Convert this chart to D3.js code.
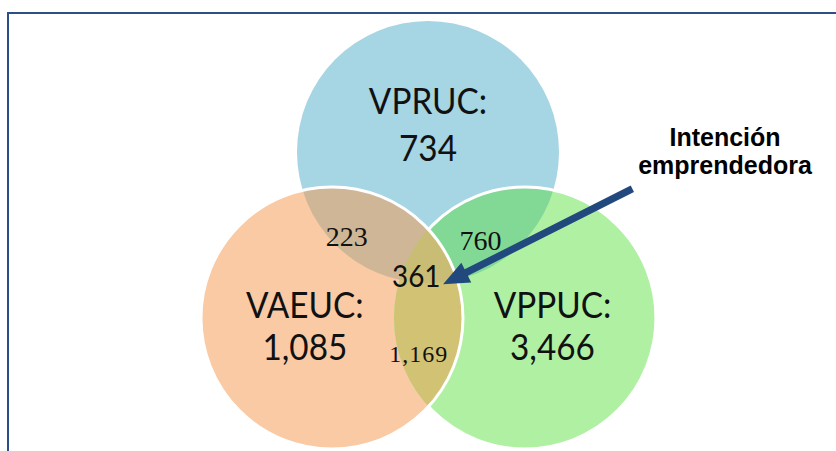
<!DOCTYPE html>
<html>
<head>
<meta charset="utf-8">
<script src="https://cdn.jsdelivr.net/npm/d3@7"></script>
<style>
  body { margin: 0; background: #fff; }
  svg { display: block; }
</style>
</head>
<body>
<script>
// sets and overlaps
var setNames = ["VPRUC", "VAEUC", "VPPUC"];
var setValues = [734, 1085, 3466];
var pairSets = [["VPRUC", "VAEUC"], ["VPRUC", "VPPUC"], ["VAEUC", "VPPUC"]];
var pairValues = [223, 760, 1169];
var tripleValue = 361;
var arrowLabel = ["Intención", "emprendedora"];

var width = 836, height = 451;

// layout in circle-radius units (center of VPRUC = 0,0)
var layout = {
  VPRUC: {cx: 0, cy: 0, fill: "#a6d5e3"},
  VAEUC: {cx: -0.733, cy: 1.267, fill: "#f9caa4"},
  VPPUC: {cx: 0.74, cy: 1.267, fill: "#b0f0a3"}
};
var pairFill = ["#cfb696", "#82d995", "#d1c274"];
var tripleFill = "#c9bd76";
var pairPos = [[-0.62, 0.72], [0.4, 0.75]];
var pairPos3 = [-0.07, 1.6];

var x = d3.scaleLinear().domain([0, 1]).range([428, 559]);
var y = d3.scaleLinear().domain([0, 1]).range([152, 283]);
var r = x(1) - x(0);
var fmt = d3.format(",");

var svg = d3.select("body").append("svg")
    .attr("width", width)
    .attr("height", height);

var defs = svg.append("defs");
setNames.forEach(function(s) {
  defs.append("clipPath").attr("id", "clip-" + s)
    .append("circle")
      .attr("cx", x(layout[s].cx))
      .attr("cy", y(layout[s].cy))
      .attr("r", r);
});
var mask = defs.append("mask").attr("id", "mask-noL");
mask.append("rect").attr("width", width).attr("height", height).attr("fill", "#fff");
mask.append("circle")
    .attr("cx", x(layout.VAEUC.cx)).attr("cy", y(layout.VAEUC.cy)).attr("r", r)
    .attr("fill", "#000");

function circ(sel, s) {
  return sel.append("circle")
      .attr("cx", x(layout[s].cx))
      .attr("cy", y(layout[s].cy))
      .attr("r", r);
}

// frame
svg.append("rect")
    .attr("x", 8).attr("y", 13)
    .attr("width", 900).attr("height", 600)
    .attr("fill", "none")
    .attr("stroke", "#2c4f86")
    .attr("stroke-width", 2);

// single sets
setNames.forEach(function(s) {
  circ(svg, s).attr("fill", layout[s].fill);
});

// pairwise overlaps
pairSets.forEach(function(p, i) {
  circ(svg.append("g").attr("clip-path", "url(#clip-" + p[0] + ")"), p[1])
      .attr("fill", pairFill[i]);
});

// triple overlap
circ(svg.append("g").attr("clip-path", "url(#clip-VPRUC)")
        .append("g").attr("clip-path", "url(#clip-VPPUC)"), "VAEUC")
    .attr("fill", tripleFill);

// white outlines
circ(svg, "VPPUC").attr("fill", "none").attr("stroke", "#fff")
    .attr("stroke-width", 3).attr("mask", "url(#mask-noL)");
circ(svg, "VAEUC").attr("fill", "none").attr("stroke", "#fff")
    .attr("stroke-width", 3);

// set labels (narrowed a bit to look like Calibri)
var setLabelPos = {VPRUC: [0, -0.29], VAEUC: [-0.94, 1.265], VPPUC: [0.95, 1.265]};
var setLabelGap = {VPRUC: 47, VAEUC: 42, VPPUC: 42};
setNames.forEach(function(s, i) {
  var px = x(setLabelPos[s][0]), py = y(setLabelPos[s][1]);
  var t = svg.append("g")
      .attr("transform", "translate(" + px + "," + py + ") scale(0.9,1)")
    .append("text")
      .attr("text-anchor", "middle")
      .style("font-family", "Lato, 'Noto Sans', sans-serif")
      .style("font-size", "37px")
      .style("fill", "#111");
  t.append("tspan").attr("x", 0).text(s + ":");
  t.append("tspan").attr("x", 0).attr("dy", setLabelGap[s]).text(fmt(setValues[i]));
});

// overlap labels
pairValues.forEach(function(v, i) {
  var pos = i < 2 ? pairPos[i] : pairPos3;
  svg.append("text")
      .attr("x", x(pos[0]))
      .attr("y", y(pos[1]))
      .attr("text-anchor", "middle")
      .style("font-family", "'Liberation Serif', 'DejaVu Serif', serif")
      .style("font-size", i < 2 ? "28px" : "24px")
      .style("letter-spacing", i < 2 ? "0px" : "1px")
      .style("fill", "#111")
      .text(fmt(v));
});

svg.append("g")
    .attr("transform", "translate(" + x(-0.09) + "," + y(1.03) + ") scale(0.93,1)")
  .append("text")
    .attr("text-anchor", "middle")
    .style("font-family", "Lato, 'Noto Sans', sans-serif")
    .style("font-size", "30px")
    .style("fill", "#111")
    .text(fmt(tripleValue));

// arrow pointing at the triple overlap
var tail = [x(1.56), y(0.28)], tip = [x(0.115), y(1.01)];
var dx = tip[0] - tail[0], dy = tip[1] - tail[1];
var len = Math.sqrt(dx * dx + dy * dy);
var ux = dx / len, uy = dy / len, nx = -uy, ny = ux;
var sw = 3.6, hw = 11, hl = 26;
var bx = tip[0] - ux * hl, by = tip[1] - uy * hl;
var pts = [
  [tail[0] + nx * sw, tail[1] + ny * sw],
  [bx + nx * sw, by + ny * sw],
  [bx + nx * hw, by + ny * hw],
  tip,
  [bx - nx * hw, by - ny * hw],
  [bx - nx * sw, by - ny * sw],
  [tail[0] - nx * sw, tail[1] - ny * sw]
];
svg.append("path")
    .attr("d", d3.line()(pts) + "Z")
    .attr("fill", "#22497d");

var lbl = svg.append("text")
    .attr("text-anchor", "middle")
    .style("font-family", "'Liberation Sans', Arial, sans-serif")
    .style("font-weight", "bold")
    .style("font-size", "25px")
    .style("fill", "#000");
arrowLabel.forEach(function(l, i) {
  lbl.append("tspan")
      .attr("x", 725)
      .attr("y", 146 + i * 28)
      .text(l);
});
</script>
</body>
</html>
